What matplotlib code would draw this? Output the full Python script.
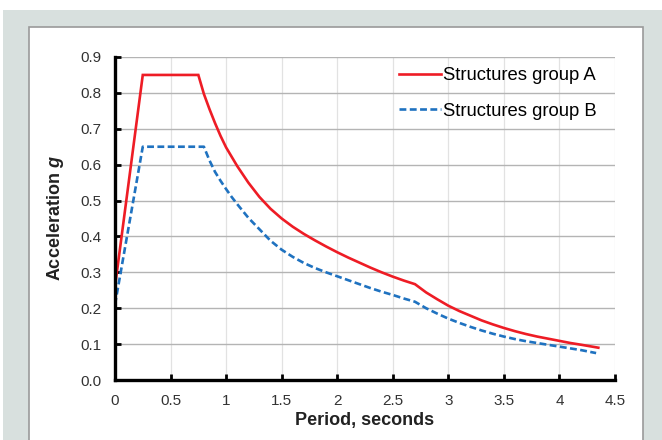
import matplotlib
matplotlib.use('Agg')
import matplotlib.pyplot as plt
from matplotlib.patches import Rectangle

plt.rcParams['font.family'] = ['Liberation Sans', 'DejaVu Sans']
plt.rcParams['mathtext.fontset'] = 'custom'
plt.rcParams['mathtext.it'] = 'Liberation Sans:italic:bold'

# data
period_a = [0, 0.25, 0.75, 0.8, 0.85, 0.9, 0.95, 1.0, 1.1, 1.2, 1.3, 1.4, 1.5, 1.6, 1.7,
            1.8, 1.9, 2.0, 2.1, 2.2, 2.3, 2.4, 2.5, 2.6, 2.7, 2.8, 2.9, 3.0, 3.1, 3.2,
            3.3, 3.4, 3.5, 3.6, 3.7, 3.8, 3.9, 4.0, 4.1, 4.2, 4.35]
accel_a = [0.26, 0.85, 0.85, 0.797, 0.755, 0.716, 0.68, 0.648, 0.596, 0.55, 0.51,
           0.477, 0.45, 0.427, 0.407, 0.389, 0.372, 0.356, 0.341, 0.327, 0.313, 0.3,
           0.288, 0.277, 0.267, 0.244, 0.225, 0.207, 0.192, 0.179, 0.166, 0.155, 0.145,
           0.136, 0.128, 0.121, 0.115, 0.109, 0.103, 0.098, 0.09]
period_b = [0, 0.25, 0.8, 0.85, 0.9, 0.95, 1.0, 1.05, 1.1, 1.2, 1.3, 1.4, 1.5, 1.6, 1.7,
            1.8, 1.9, 2.0, 2.1, 2.2, 2.3, 2.4, 2.5, 2.6, 2.7, 2.8, 2.9, 3.0, 3.1, 3.2,
            3.3, 3.4, 3.5, 3.6, 3.7, 3.8, 3.9, 4.0, 4.1, 4.2, 4.33]
accel_b = [0.21, 0.65, 0.65, 0.612, 0.58, 0.555, 0.532, 0.51, 0.49, 0.452, 0.42, 0.388,
           0.363, 0.343, 0.326, 0.312, 0.3, 0.289, 0.278, 0.267, 0.256, 0.246, 0.237,
           0.227, 0.218, 0.2, 0.185, 0.171, 0.159, 0.148, 0.138, 0.129, 0.121, 0.114,
           0.108, 0.103, 0.098, 0.093, 0.088, 0.083, 0.075]
x_ticks = [0, 0.5, 1, 1.5, 2, 2.5, 3, 3.5, 4, 4.5]
x_labels = ['0', '0.5', '1', '1.5', '2', '2.5', '3', '3.5', '4', '4.5']
y_ticks = [0.0, 0.1, 0.2, 0.3, 0.4, 0.5, 0.6, 0.7, 0.8, 0.9]
y_labels = ['0.0', '0.1', '0.2', '0.3', '0.4', '0.5', '0.6', '0.7', '0.8', '0.9']

W, H = 662, 440
fig = plt.figure(figsize=(6.62, 4.4), dpi=100, facecolor='white')

# background: grey frame and white panel
fig.patches.append(Rectangle((3 / W, 0), 1, (H - 10) / H, transform=fig.transFigure,
                             facecolor='#d8e0de', edgecolor='none', zorder=-2))
fig.patches.append(Rectangle((29 / W, -0.05), (643 - 29) / W, (H - 27) / H + 0.05,
                             transform=fig.transFigure, facecolor='white',
                             edgecolor='#9a9a9a', linewidth=1.2, zorder=-1))

ax = fig.add_axes([115 / W, (H - 380) / H, (615 - 115) / W, (380 - 57) / H])
ax.set_facecolor('none')

ax.plot(period_a, accel_a, color='#ee1c25', lw=1.9, label='Structures group A',
        solid_joinstyle='miter')
ax.plot(period_b, accel_b, color='#1f72c0', lw=1.9, dashes=(2.6, 1.3),
        label='Structures group B')

ax.set_xlim(0, 4.5)
ax.set_ylim(0, 0.9)
ax.set_xticks(x_ticks)
ax.set_xticklabels(x_labels)
ax.set_yticks(y_ticks)
ax.set_yticklabels(y_labels)

ax.grid(axis='y', color='#b4b4b4', lw=1.0)
ax.grid(axis='x', color='#e2e2e2', lw=0.9)
ax.set_axisbelow(True)

for s in ['top', 'right']:
    ax.spines[s].set_visible(False)
for s in ['left', 'bottom']:
    ax.spines[s].set_linewidth(2.4)
    ax.spines[s].set_color('black')

ax.tick_params(direction='in', length=4, width=2, colors='black', labelsize=11,
               labelcolor='#333333')
ax.tick_params(axis='y', pad=10)
ax.tick_params(axis='x', pad=10)

ax.set_xlabel('Period, seconds', fontsize=13, fontweight='bold', color='#222222',
              labelpad=3)
ax.set_ylabel(r'Acceleration $g$', fontsize=13, fontweight='bold', color='#222222',
              labelpad=10)

ax.legend(loc='upper right', frameon=False, fontsize=13.3, handlelength=2.3,
          handletextpad=0.1, labelspacing=1.0, bbox_to_anchor=(0.997, 1.02))

fig.savefig('out.png', dpi=100, facecolor='white')
